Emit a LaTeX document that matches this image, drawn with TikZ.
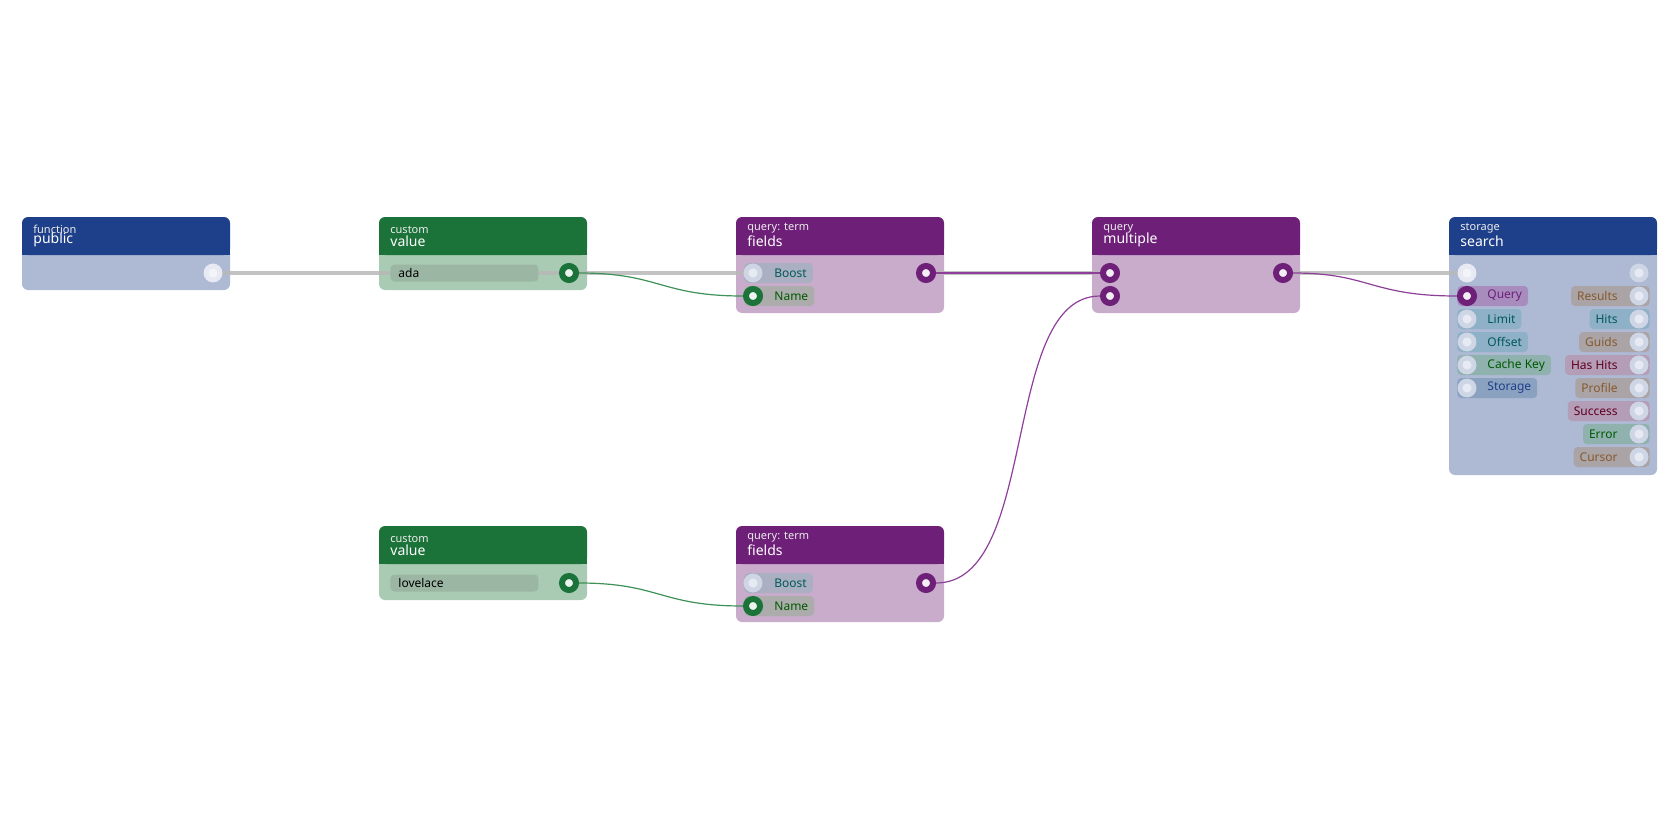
\documentclass[tikz,border=0pt]{standalone}
\usepackage{fontspec}
\setmainfont{Noto Sans}
\definecolor{bluehd}{HTML}{1E3F8A}
\definecolor{bluebd}{HTML}{AEB9D4}
\definecolor{greenhd}{HTML}{1B7339}
\definecolor{greenbd}{HTML}{A9CBB4}
\definecolor{purphd}{HTML}{6E1F78}
\definecolor{purpbd}{HTML}{C9ACCC}
\definecolor{wire}{HTML}{B8B8B8}
\definecolor{pgreen}{HTML}{3E9157}
\definecolor{ppurp}{HTML}{8E3F9A}
\definecolor{pbrown}{RGB}{170,164,166}
\definecolor{pteal}{RGB}{143,177,200}
\definecolor{pmauve}{RGB}{180,157,182}
\definecolor{pmint}{RGB}{143,178,174}
\definecolor{pnavy}{RGB}{138,162,192}
\definecolor{pquery}{RGB}{169,140,190}
\definecolor{fieldc}{RGB}{156,182,164}
\pgfdeclarelayer{fg}
\pgfdeclarelayer{top}
\pgfsetlayers{main,fg,top}
\tikzset{
  hd/.style={fill=#1, rounded corners=3pt},
  bd/.style={fill=#1, rounded corners=3pt},
  sub/.style={anchor=south west, inner sep=0pt, font=\fontsize{5.5}{6}\selectfont, text=white!85!gray},
  ttl/.style={anchor=south west, inner sep=0pt, font=\fontsize{7}{8}\selectfont, text=white},
  port/.style={draw=#1, fill=white!92!#1, line width=3pt, circle, inner sep=0pt, minimum size=7pt},
  dim/.style={fill=white!70!bluebd, circle, inner sep=0pt, minimum size=7pt, draw=white!40!bluebd, line width=2.4pt},
  lpill/.style={fill=#1, rounded corners=2pt, anchor=west, minimum height=10pt, inner xsep=3pt, inner ysep=0pt, font=\fontsize{6}{7}\selectfont},
  rpill/.style={fill=#1, rounded corners=2pt, anchor=east, minimum height=10pt, inner xsep=3pt, inner ysep=0pt, font=\fontsize{6}{7}\selectfont},
  field/.style={fill=fieldc, rounded corners=2pt, anchor=west, minimum height=8.5pt, inner sep=0pt, font=\fontsize{6}{7}\selectfont},
}
\newcommand{\card}[6]{% name, x, y, h, colour, unused
  \fill[bd=#5bd] (#2,#3+30) rectangle (#2+208,#3+#4);
  \fill[hd=#5hd] (#2,#3) rectangle (#2+208,#3+38);
  \fill[#5hd] (#2,#3+30) rectangle (#2+208,#3+38);
}
\begin{document}
\begin{tikzpicture}[x=0.5pt,y=-0.5pt]
\useasboundingbox (0,0) rectangle (1680,840);
% cards
\card{pub}{22}{217}{73}{blue}{}
\node[sub] at (33,234) {function}; \node[ttl] at (33,247) {public};
\card{val1}{379}{217}{73}{green}{}
\node[sub] at (390,234) {custom}; \node[ttl] at (390,247) {value};
\card{fld1}{736}{217}{96}{purp}{}
\node[sub] at (747,234) {query: term}; \node[ttl] at (747,247) {fields};
\card{mul}{1092}{217}{96}{purp}{}
\node[sub] at (1103,234) {query}; \node[ttl] at (1103,247) {multiple};
\card{srch}{1449}{217}{258}{blue}{}
\node[sub] at (1460,234) {storage}; \node[ttl] at (1460,247) {search};
\card{val2}{379}{526}{74}{green}{}
\node[sub] at (390,543) {custom}; \node[ttl] at (390,556) {value};
\card{fld2}{736}{526}{96}{purp}{}
\node[sub] at (747,543) {query: term}; \node[ttl] at (747,556) {fields};
\begin{pgfonlayer}{fg}
% text fields
\node[field, minimum width=74pt, text width=74pt] at (390,273) {\hspace*{4pt}ada};
\node[field, minimum width=74pt, text width=74pt] at (390,583) {\hspace*{4pt}lovelace};
% pills
\node[lpill=bluebd!70!gray!90, text=teal!70!black, minimum width=32pt] at (744,273) {\hspace*{12pt}Boost};
\node[lpill=gray!65, text=green!35!black, minimum width=32pt] at (744,296) {\hspace*{12pt}Name};
\node[lpill=bluebd!70!gray!90, text=teal!70!black, minimum width=32pt] at (744,583) {\hspace*{12pt}Boost};
\node[lpill=gray!65, text=green!35!black, minimum width=32pt] at (744,606) {\hspace*{12pt}Name};
\foreach \lab/\y/\c/\tc in {Query/296/pquery/purphd, Limit/319/pteal/teal!70!black,
  Offset/342/pteal/teal!70!black, Cache Key/365/pmint/green!35!black, Storage/388/pnavy/bluehd}
  \node[lpill=\c, text=\tc] at (1457,\y) {\hspace*{12pt}\lab};
\foreach \lab/\y/\c/\tc in {Results/296/pbrown/brown!70!black, Hits/319/pteal/teal!70!black,
  Guids/342/pbrown/brown!70!black, Has Hits/365/pmauve/purple!50!black,
  Profile/388/pbrown/brown!70!black, Success/411/pmauve/purple!50!black,
  Error/434/pmint/green!35!black, Cursor/457/pbrown/brown!70!black}
  \node[rpill=\c, text=\tc] at (1650,\y) {\lab\hspace*{13pt}};
\end{pgfonlayer}
% ports
\begin{pgfonlayer}{top}
\node[dim, fill=white!85!bluebd, draw=white!70!bluebd] (pubout) at (213,273) {};
\node[port=greenhd] (val1out) at (569,273) {};
\node[port=greenhd] (val2out) at (569,583) {};
\node[dim] (f1boost) at (753,273) {};
\node[port=greenhd] (f1name) at (753,296) {};
\node[port=purphd] (f1out) at (926,273) {};
\node[dim] (f2boost) at (753,583) {};
\node[port=greenhd] (f2name) at (753,606) {};
\node[port=purphd] (f2out) at (926,583) {};
\node[port=purphd] (mulin1) at (1110,273) {};
\node[port=purphd] (mulin2) at (1110,296) {};
\node[port=purphd] (mulout) at (1283,273) {};
\node[dim, fill=white!85!bluebd, draw=white!70!bluebd] (srchin) at (1467,273) {};
\node[port=purphd] (srchq) at (1467,296) {};
\node[dim] (srchout) at (1639,273) {};
\foreach \y in {319,342,365,388} \node[dim] at (1467,\y) {};
\foreach \y in {296,319,342,365,388,411,434,457} \node[dim] at (1639,\y) {};
\end{pgfonlayer}
% wires
\draw[wire, line width=2.2pt, opacity=0.85] (pubout.east) -- (val1out.west) (val1out.east) -- (f1boost.west) (f1out.east) -- (mulin1.west) (mulout.east) -- (srchin.west);
\draw[ppurp, line width=0.6pt] (f1out.east) -- (mulin1.west);
\draw[pgreen, line width=0.6pt] (val1out.east) .. controls (660,273) and (660,296) .. (f1name.west);
\draw[pgreen, line width=0.6pt] (val2out.east) .. controls (660,583) and (660,606) .. (f2name.west);
\draw[ppurp, line width=0.6pt] (f2out.east) .. controls (1040,583) and (1000,296) .. (mulin2.west);
\draw[ppurp, line width=0.6pt] (mulout.east) .. controls (1370,273) and (1370,296) .. (srchq.west);
\end{tikzpicture}
\end{document}
